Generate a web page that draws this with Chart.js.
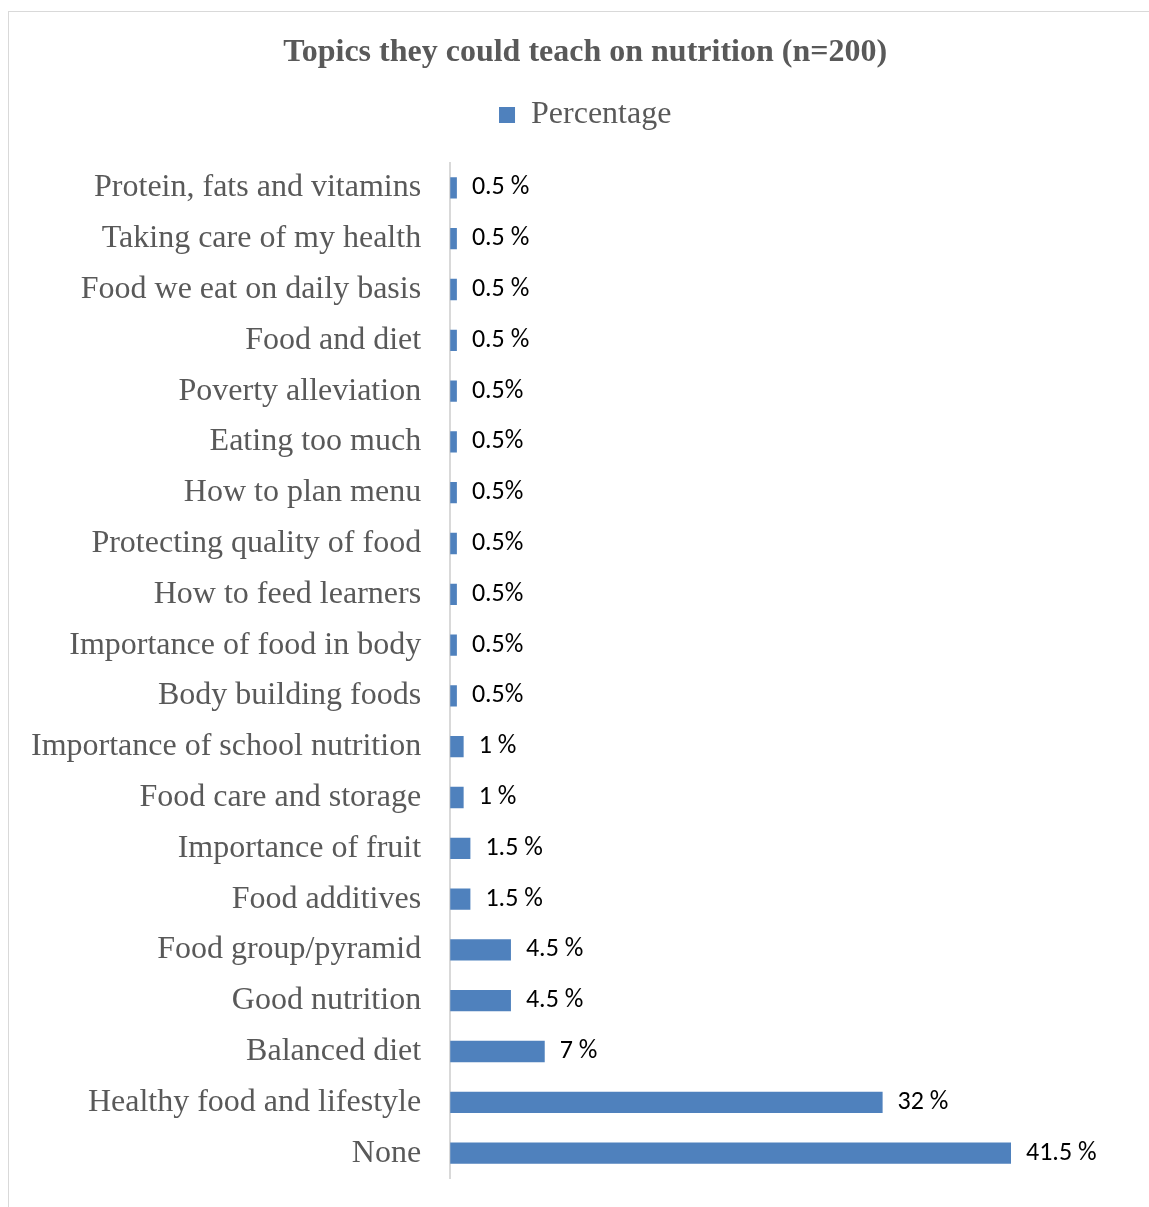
<!DOCTYPE html>
<html>
<head>
<meta charset="utf-8">
<title>Topics they could teach on nutrition</title>
<script src="https://cdn.jsdelivr.net/npm/chart.js@4.4.0/dist/chart.umd.min.js"></script>
<style>
    html, body { margin: 0; padding: 0; background: #fff; overflow: hidden; }
    #frame {
        position: absolute;
        left: 8px;
        top: 11px;
        width: 1160px;
        height: 1220px;
        border: 1px solid #d9d9d9;
    }
    #topicsChart { display: block; }
</style>
</head>
<body>
<div id="frame">
    <canvas id="topicsChart" width="1152" height="1200"></canvas>
</div>
<script>
// Chart data
const categories = [
    'Protein, fats and vitamins',
    'Taking care of my health',
    'Food we eat on daily basis',
    'Food and diet',
    'Poverty alleviation',
    'Eating too much',
    'How to plan menu',
    'Protecting quality of food',
    'How to feed learners',
    'Importance of food in body',
    'Body building foods',
    'Importance of school nutrition',
    'Food care and storage',
    'Importance of fruit',
    'Food additives',
    'Food group/pyramid',
    'Good nutrition',
    'Balanced diet',
    'Healthy food and lifestyle',
    'None'
];
const percentages = [0.5, 0.5, 0.5, 0.5, 0.5, 0.5, 0.5, 0.5, 0.5, 0.5, 0.5, 1, 1, 1.5, 1.5, 4.5, 4.5, 7, 32, 41.5];
const valueLabels = [
    '0.5 %', '0.5 %', '0.5 %', '0.5 %',
    '0.5%', '0.5%', '0.5%', '0.5%', '0.5%', '0.5%', '0.5%',
    '1 %', '1 %', '1.5 %', '1.5 %', '4.5 %', '4.5 %', '7 %', '32 %', '41.5 %'
];
const xMin = 0;
const xMax = 51;

const greyText = '#595959';
const serif = '"Liberation Serif", "Times New Roman", serif';

// value labels at the end of each bar
const barLabels = {
    id: 'barLabels',
    afterDatasetsDraw(chart) {
        const ctx = chart.ctx;
        const meta = chart.getDatasetMeta(0);
        ctx.save();
        ctx.font = '26px Carlito, Calibri, Lato, sans-serif';
        ctx.fillStyle = '#000000';
        ctx.textAlign = 'left';
        ctx.textBaseline = 'middle';
        meta.data.forEach((bar, i) => {
            ctx.fillText(valueLabels[i], bar.x + 15, bar.y);
        });
        ctx.restore();
    }
};

const ctx = document.getElementById('topicsChart').getContext('2d');
const topicsChart = new Chart(ctx, {
    type: 'bar',
    data: {
        labels: categories,
        datasets: [{
            label: 'Percentage',
            data: percentages,
            backgroundColor: '#4F81BD',
            borderWidth: 0,
            barPercentage: 0.42,
            categoryPercentage: 1.0
        }]
    },
    options: {
        indexAxis: 'y',
        responsive: false,
        animation: false,
        layout: {
            padding: { left: 22, right: 21.6, top: 0, bottom: 33.5 }
        },
        scales: {
            x: {
                position: 'top',
                min: xMin,
                max: xMax,
                grid: { display: false },
                border: { display: false },
                ticks: { display: false },
                // keeps a gap between legend and plot
                afterFit: function(scale) {
                    scale.height = 21.5;
                }
            },
            y: {
                // tick marks hidden, tickLength only used as label gap
                grid: { display: false, drawTicks: true, tickLength: 29 },
                border: { display: true, color: '#d9d9d9', width: 2 },
                ticks: {
                    autoSkip: false,
                    padding: 0,
                    color: greyText,
                    font: { family: serif, size: 32 }
                }
            }
        },
        plugins: {
            title: {
                display: true,
                text: 'Topics they could teach on nutrition (n=200)',
                color: greyText,
                font: { family: serif, size: 32, weight: 'bold' },
                padding: { top: 22, bottom: 16.6 }
            },
            legend: {
                display: true,
                labels: {
                    color: greyText,
                    font: { family: serif, size: 32 },
                    boxWidth: 16,
                    boxHeight: 16,
                    padding: 10
                }
            },
            tooltip: { enabled: false }
        }
    },
    plugins: [barLabels]
});
</script>
</body>
</html>
